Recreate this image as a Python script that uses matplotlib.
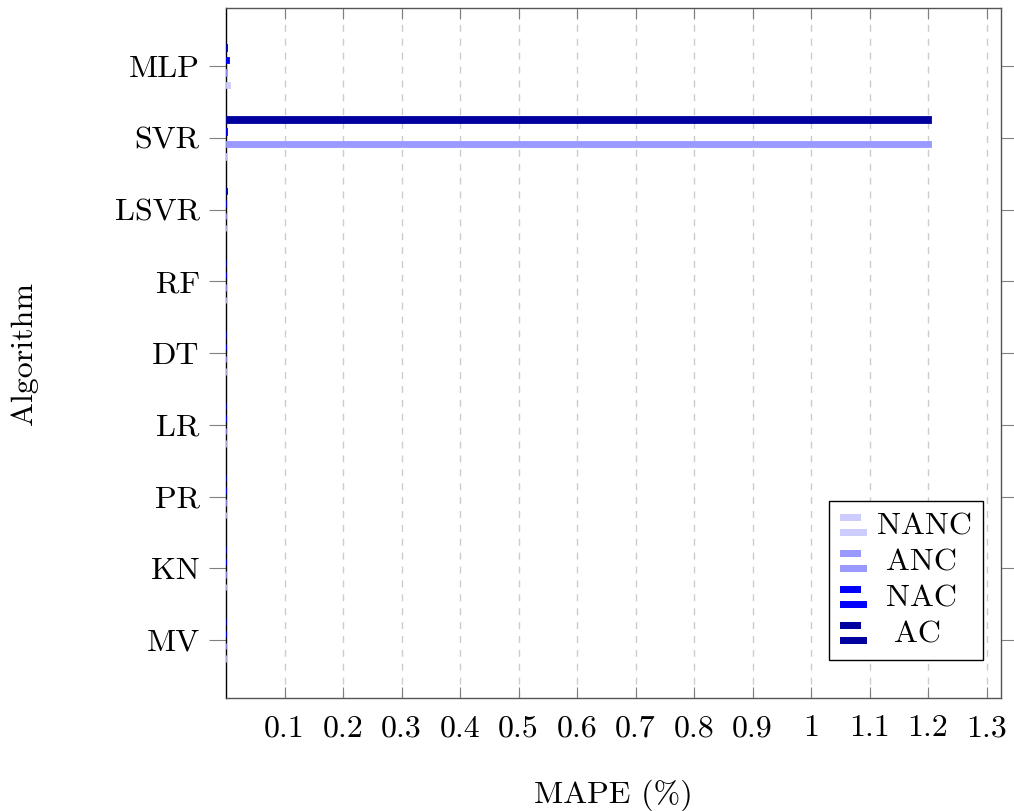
import matplotlib
matplotlib.use("Agg")
import matplotlib.pyplot as plt
import numpy as np
from matplotlib.legend_handler import HandlerBase
from matplotlib.patches import Rectangle

plt.rcParams['font.family'] = 'serif'
plt.rcParams['font.serif'] = ['cmr10', 'DejaVu Serif']
plt.rcParams['mathtext.fontset'] = 'cm'
plt.rcParams['axes.formatter.use_mathtext'] = True

################################################################################
# data (MAPE in %), categories listed top -> bottom

algorithms = ['MLP', 'SVR', 'LSVR', 'RF', 'DT', 'LR', 'PR', 'KN', 'MV']
nanc = [0.006, 0.001, 0.0005, 0.0003, 0.0003, 0.0003, 0.0003, 0.0003, 0.0003]
anc  = [0.001, 1.205, 0.0005, 0.0003, 0.0003, 0.0003, 0.0003, 0.0003, 0.0003]
nac  = [0.005, 0.001, 0.0005, 0.0003, 0.0003, 0.0003, 0.0003, 0.0003, 0.0003]
ac   = [0.001, 1.205, 0.001, 0.0003, 0.0003, 0.0003, 0.0003, 0.0003, 0.0003]
xTicks = [0.1, 0.2, 0.3, 0.4, 0.5, 0.6, 0.7, 0.8, 0.9, 1.0, 1.1, 1.2, 1.3]
xTickLabels = ['0.1', '0.2', '0.3', '0.4', '0.5', '0.6', '0.7', '0.8', '0.9', '1', '1.1', '1.2', '1.3']

seriesNames = ['NANC', 'ANC', 'NAC', 'AC']
seriesValues = [nanc, anc, nac, ac]
seriesColors = ['#ccccff', '#9999ff', '#0000ff', '#00009e']

################################################################################

class TwoBarHandler(HandlerBase):
   # pgfplots style legend image: two small horizontal bars
   def create_artists(self, legend, orig_handle, xdescent, ydescent, width, height, fontsize, trans):
      c = orig_handle.get_facecolor()
      h = height * 0.32
      top = Rectangle((-xdescent, -ydescent + height * 0.62), width * 0.77, h,
                      facecolor=c, edgecolor='none', transform=trans)
      bot = Rectangle((-xdescent, -ydescent - height * 0.05), width, h,
                      facecolor=c, edgecolor='none', transform=trans)
      return [top, bot]

fig = plt.figure(figsize=(10.14, 8.11), dpi=100)
ax = fig.add_axes([0.2229, 0.1393, 0.9872 - 0.2229, 0.990 - 0.1393])

numCats = len(algorithms)
yPos = np.arange(numCats)[::-1]   # MLP on top
barStep = 0.173
barHeight = 0.09
offsets = [-1.5 * barStep, -0.5 * barStep, 0.5 * barStep, 1.5 * barStep]

handles = []
for name, vals, col, off in zip(seriesNames, seriesValues, seriesColors, offsets):
   b = ax.barh(yPos + off, vals, height=barHeight, color=col, edgecolor=col,
               linewidth=0.6, label=name, zorder=3)
   handles.append(b.patches[0])

ax.set_xlim(0, 1.3248)
ax.set_ylim(-0.81, numCats - 1 + 0.81)
ax.set_yticks(yPos)
ax.set_yticklabels(algorithms)
ax.set_xticks(xTicks)
ax.set_xticklabels(xTickLabels)

fs = 23
ax.tick_params(axis='both', labelsize=fs)
ax.tick_params(axis='x', direction='in', top=True, length=8, width=0.8, color='#808080', pad=12)
ax.tick_params(axis='y', direction='out', right=True, length=12, width=0.8, color='#808080', pad=7)

ax.grid(axis='x', linestyle=(0, (5, 5)), color='#cccccc', linewidth=1.0, zorder=0)
ax.set_axisbelow(True)
for side in ['top', 'right', 'bottom']:
   ax.spines[side].set_color('#555555')
   ax.spines[side].set_linewidth(1.0)
ax.spines['left'].set_color('black')
ax.spines['left'].set_linewidth(1.0)

ax.set_xlabel('MAPE (%)', fontsize=fs)
ax.set_ylabel('Algorithm', fontsize=fs)
ax.xaxis.set_label_coords(0.5, -0.118)
ax.yaxis.set_label_coords(-0.243, 0.5)

leg = ax.legend(handles, seriesNames, handler_map={Rectangle: TwoBarHandler()},
                loc='lower right', bbox_to_anchor=(0.977, 0.055), borderaxespad=0,
                fontsize=fs, fancybox=False, framealpha=1, edgecolor='black',
                handlelength=0.85, handletextpad=0.3, labelspacing=0.24,
                borderpad=0.35)
leg.get_frame().set_linewidth(1.0)

# centre the legend labels like pgfplots does
fig.canvas.draw()
texts = leg.get_texts()
widths = [t.get_window_extent().width for t in texts]
maxW = max(widths)
for t, w in zip(texts, widths):
   t.set_position(((maxW - w) / 2 * 72.0 / fig.dpi, 0))

fig.savefig('out.png', dpi=100)
